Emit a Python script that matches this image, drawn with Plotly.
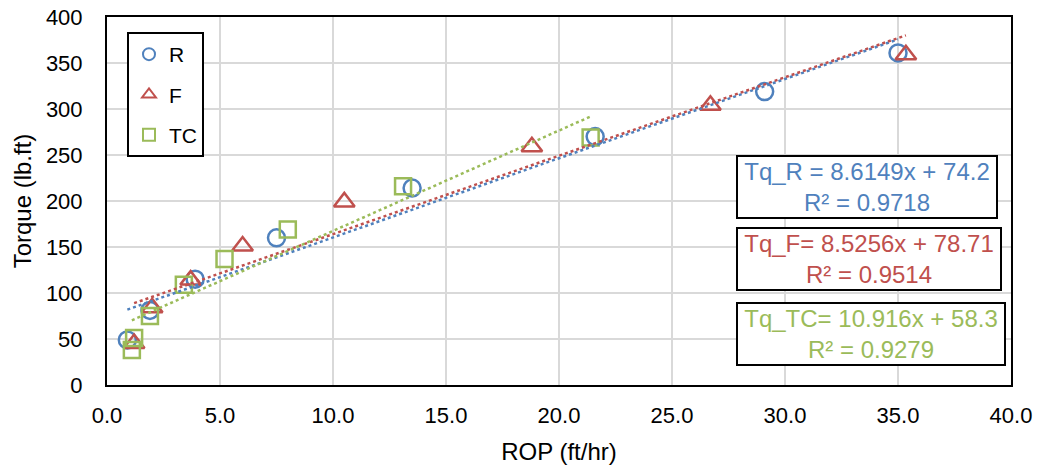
import plotly.graph_objects as go

# ---- data ----
rop_R = [0.9, 1.9, 3.9, 7.5, 13.5, 21.6, 29.1, 35.0]
tq_R = [49, 81, 115, 160, 214, 270, 319, 361]
rop_F = [1.2, 2.0, 3.7, 6.0, 10.5, 18.8, 26.7, 35.35]
tq_F = [45, 84, 114, 151, 199, 259, 304, 359]
rop_TC = [1.1, 1.2, 1.9, 3.4, 5.2, 8.0, 13.1, 21.4]
tq_TC = [38, 51, 75, 109, 137, 169, 216, 269]

series_names = ["R", "F", "TC"]
fit_slope = [8.6149, 8.5256, 10.916]
fit_intercept = [74.2, 78.71, 58.3]
fit_labels = ["Tq_R = 8.6149x + 74.2<br>R² = 0.9718",
              "Tq_F= 8.5256x + 78.71<br>R² = 0.9514",
              "Tq_TC= 10.916x + 58.3<br>R² = 0.9279"]

x_ticks = [0, 5, 10, 15, 20, 25, 30, 35, 40]
y_ticks = [0, 50, 100, 150, 200, 250, 300, 350, 400]

colors = ["#4F81BD", "#C0504D", "#9BBB59"]
symbols = ["circle-open", "triangle-up-open", "square-open"]
sizes = [17, 18, 16]
FONT = "Arial, Liberation Sans, sans-serif"

xs = [rop_R, rop_F, rop_TC]
ys = [tq_R, tq_F, tq_TC]

fig = go.Figure()
for i in range(3):
    fig.add_trace(go.Scatter(
        x=xs[i], y=ys[i], mode="markers", name=series_names[i],
        legendgroup=series_names[i],
        marker=dict(symbol=symbols[i], size=sizes[i], color=colors[i],
                    line=dict(width=2.5, color=colors[i])),
    ))
for i in range(3):
    x0, x1 = min(xs[i]), max(xs[i])
    fig.add_trace(go.Scatter(
        x=[x0, x1], y=[fit_slope[i] * x0 + fit_intercept[i], fit_slope[i] * x1 + fit_intercept[i]],
        mode="lines", showlegend=False, hoverinfo="skip",
        line=dict(color=colors[i], width=2.5, dash="dot"),
    ))

L, R, T, B = 107, 29, 17, 83
W, H = 1040, 468
pw, ph = W - L - R, H - T - B

def px(xp):
    return (xp - L) / pw

def py(yp):
    return (H - B - yp) / ph

box_tops = [155, 227, 302]
box_widths = [262, 266, 270]
for i in range(3):
    fig.add_annotation(
        text=fit_labels[i], xref="paper", yref="paper",
        x=px(736), y=py(box_tops[i]), xanchor="left", yanchor="top",
        showarrow=False, align="center", valign="middle",
        width=box_widths[i] - 6, height=58,
        font=dict(family=FONT, size=24, color=colors[i]),
        bgcolor="white", bordercolor="black", borderwidth=2, borderpad=1,
    )

fig.update_layout(
    width=W, height=H,
    margin=dict(l=L, r=R, t=T, b=B),
    paper_bgcolor="white", plot_bgcolor="white",
    font=dict(family=FONT, color="black"),
    legend=dict(x=px(127), y=py(32), xanchor="left", yanchor="top",
                bordercolor="black", borderwidth=2, bgcolor="white",
                font=dict(family=FONT, size=21, color="black"),
                tracegroupgap=10, itemwidth=30, itemsizing="constant"),
    xaxis=dict(range=[0, 40], tickvals=x_ticks, tickformat=".1f", automargin=False,
               showgrid=True, gridcolor="#D9D9D9", gridwidth=2,
               zeroline=False, showline=True, linecolor="black", linewidth=2, mirror=True,
               ticks="", tickfont=dict(size=22, family=FONT, color="black"),
               ticklabelstandoff=10,
               title=dict(text="ROP (ft/hr)", font=dict(size=24, family=FONT, color="black"), standoff=16)),
    yaxis=dict(range=[0, 400], tickvals=y_ticks, automargin=False,
               showgrid=True, gridcolor="#D9D9D9", gridwidth=2,
               zeroline=False, showline=True, linecolor="black", linewidth=2, mirror=True,
               ticks="", tickfont=dict(size=22, family=FONT, color="black"),
               ticklabelstandoff=18,
               title=dict(text="Torque (lb.ft)", font=dict(size=24, family=FONT, color="black"), standoff=7)),
)

fig.write_html("out.html")
